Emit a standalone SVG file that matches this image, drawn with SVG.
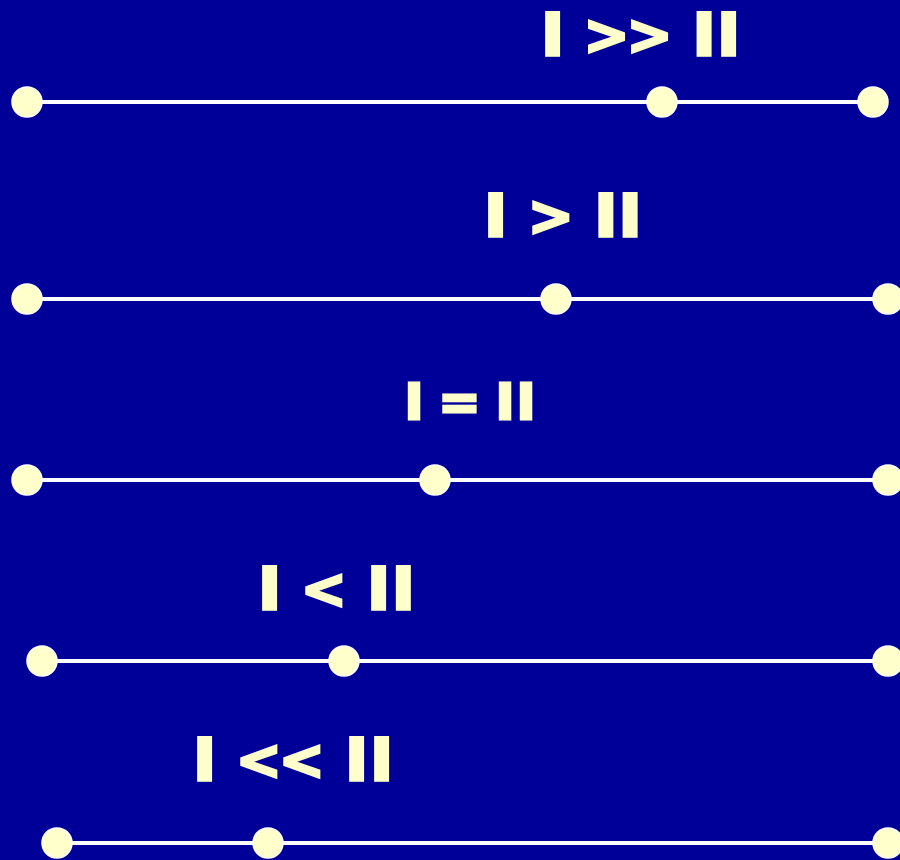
<svg xmlns="http://www.w3.org/2000/svg" width="900" height="860" viewBox="0 0 900 860">
<style>
.bg{fill:#000099}
.ln{stroke:#ffffff;stroke-width:4;fill:none}
.dot{fill:#ffffcc;stroke:#ffffff;stroke-width:1.5}
.lbl{font-family:"DejaVu Sans",sans-serif;font-weight:bold;fill:#ffffcc;stroke:#ffffcc;stroke-linejoin:miter;text-anchor:middle}
.big{font-size:57px;stroke-width:4.2}
.small{font-size:50px;stroke-width:3}
.op{font-size:55px;stroke-width:2.6}
</style>
<rect class="bg" x="0" y="0" width="900" height="860"/>
<g id="connectors">
<line class="ln" x1="27" y1="102" x2="873" y2="102"/>
<line class="ln" x1="27" y1="299" x2="888" y2="299"/>
<line class="ln" x1="27" y1="480" x2="888" y2="480"/>
<line class="ln" x1="42" y1="661" x2="888" y2="661"/>
<line class="ln" x1="57" y1="843" x2="888" y2="843"/>
</g>
<g id="row1">
<g id="r1-a"><circle class="dot" cx="27" cy="102" r="15"/></g>
<g id="r1-m"><circle class="dot" cx="662" cy="102" r="15"/></g>
<g id="r1-b"><circle class="dot" cx="873" cy="102" r="15"/></g>
<g id="r1-label"><text class="lbl big" x="552.5 574 606.5 649.5 682 704.2 728.5" y="55 55 54 54 55 55 55">I <tspan class="op">&gt;&gt;</tspan> II</text></g>
</g>
<g id="row2">
<g id="r2-a"><circle class="dot" cx="27" cy="299" r="15"/></g>
<g id="r2-m"><circle class="dot" cx="556" cy="299" r="15"/></g>
<g id="r2-b"><circle class="dot" cx="888" cy="299" r="15"/></g>
<g id="r2-label"><text class="lbl big" x="495.5 517 550.8 584 605.8 630.2" y="236 236 235 236 236 236">I <tspan class="op">&gt;</tspan> II</text></g>
</g>
<g id="row3">
<g id="r3-a"><circle class="dot" cx="27" cy="480" r="15"/></g>
<g id="r3-m"><circle class="dot" cx="435" cy="480" r="15"/></g>
<g id="r3-b"><circle class="dot" cx="888" cy="480" r="15"/></g>
<g id="r3-label"><text class="lbl small" x="414 430 459.5 486 505 526" y="418.5">I = II</text></g>
</g>
<g id="row4">
<g id="r4-a"><circle class="dot" cx="42" cy="661" r="15"/></g>
<g id="r4-m"><circle class="dot" cx="344" cy="661" r="15"/></g>
<g id="r4-b"><circle class="dot" cx="888" cy="661" r="15"/></g>
<g id="r4-label"><text class="lbl big" x="269.5 291 323.8 356 378.5 403.3" y="608.6 608.6 607.6 608.6 608.6 608.6">I <tspan class="op">&lt;</tspan> II</text></g>
</g>
<g id="row5">
<g id="r5-a"><circle class="dot" cx="57" cy="843" r="15"/></g>
<g id="r5-m"><circle class="dot" cx="268" cy="843" r="15"/></g>
<g id="r5-b"><circle class="dot" cx="888" cy="843" r="15"/></g>
<g id="r5-label"><text class="lbl big" x="204.5 226 258.8 301.7 334 356.5 381.5" y="780.2 780.2 779.2 779.2 780.2 780.2 780.2">I <tspan class="op">&lt;&lt;</tspan> II</text></g>
</g>
</svg>
